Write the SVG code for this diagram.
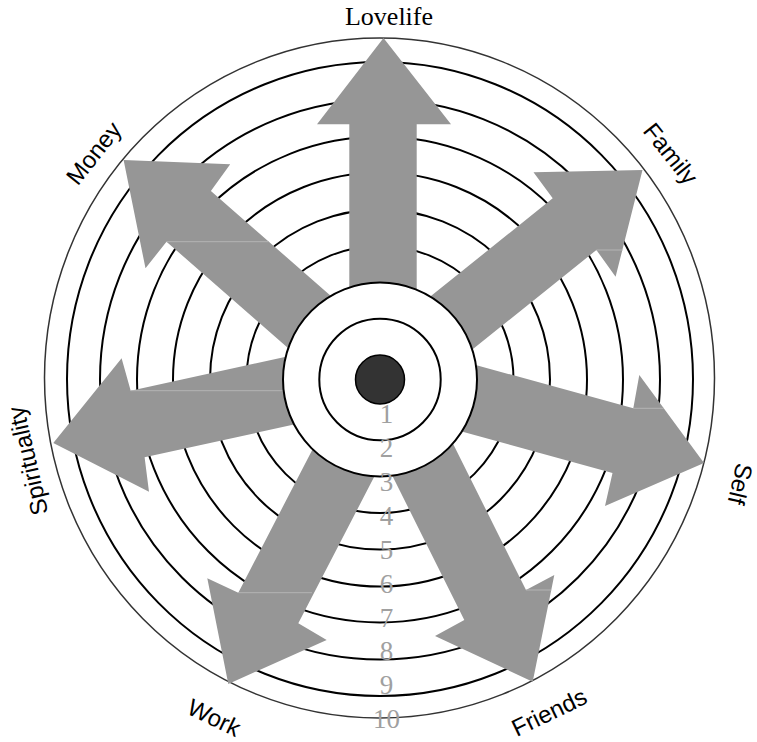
<svg xmlns="http://www.w3.org/2000/svg" width="757" height="742" viewBox="0 0 757 742">
<style>
.ring{fill:none;stroke:#000;stroke-width:2}
.outer{fill:none;stroke:#333;stroke-width:1.5}
.arrow{fill:#969696;stroke:none}
.seam{stroke:#b4b4b4;stroke-width:1;fill:none}
.num{font-family:"Liberation Serif","Times New Roman",serif;font-size:27px;fill:#a0a0a0;text-anchor:middle}
.lbl{font-family:"Liberation Sans",Arial,sans-serif;font-size:24px;fill:#000;text-anchor:middle}
.title{font-family:"Liberation Serif","Times New Roman",serif;font-size:26px;fill:#000;text-anchor:middle}
</style>
<rect width="757" height="742" fill="#fff"/>
<g id="rings">
<ellipse class="outer" cx="379.5" cy="378" rx="335" ry="340"/>
<ellipse class="ring" cx="380" cy="379" rx="313" ry="317"/>
<circle class="ring" cx="380" cy="379.5" r="280"/>
<circle class="ring" cx="380" cy="379.5" r="243"/>
<circle class="ring" cx="380" cy="379.5" r="207"/>
<circle class="ring" cx="380" cy="379.5" r="170"/>
<circle class="ring" cx="380" cy="379.5" r="133.5"/>
</g>
<g id="connectors">
<g id="arrow-lovelife"><polygon class="arrow" points="383.5,38 451,124.3 416.7,124.3 416.7,379 349.3,379 349.3,124.3 317,124.3"/></g>
<g id="arrow-family"><polygon class="arrow" points="642.5,170 615.6,276.7 596.4,250 401.4,406.5 357.7,354.8 552.7,198.3 533.5,172.3"/><line class="seam" x1="596.4" y1="250" x2="622.5" y2="250"/></g>
<g id="arrow-self"><polygon class="arrow" points="704,463 639.3,375 633.3,408.3 392.3,342 371.5,406.8 612.5,473 605,506"/><line class="seam" x1="633.3" y1="408.3" x2="663.8" y2="408.3"/></g>
<g id="arrow-friends"><polygon class="arrow" points="532.7,681.7 435,636 464.3,620 352.8,396.5 414.5,366.5 526,590 554.3,575"/><line class="seam" x1="526" y1="590" x2="551.3" y2="590"/></g>
<g id="arrow-work"><polygon class="arrow" points="228.3,684 207.3,578.3 238.3,592.7 353.3,370.7 413.3,401.3 298.3,623.3 326.7,640"/><line class="seam" x1="238.3" y1="592.7" x2="312" y2="592.7"/></g>
<g id="arrow-spirituality"><polygon class="arrow" points="53.3,443 121.6,358.3 130.7,390.7 375,337.2 388.9,403.8 144.6,457.3 149,491.7"/><line class="seam" x1="130.7" y1="390.7" x2="290" y2="390.7"/></g>
<g id="arrow-money"><polygon class="arrow" points="123.6,160 230.2,164.3 210.9,191 398.9,355.5 354.5,406.2 166.5,241.7 145.5,268.3"/><line class="seam" x1="166.5" y1="241.7" x2="268.8" y2="241.7"/></g>
</g>
<g id="hub">
<circle cx="380" cy="379.5" r="97" fill="#fff" stroke="#000" stroke-width="2"/>
<circle class="ring" cx="380" cy="379.5" r="60.7"/>
<circle cx="380" cy="379.5" r="24.5" fill="#333" stroke="#000" stroke-width="1.5"/>
</g>
<g id="scale">
<text class="num" x="386.5" y="422.7">1</text>
<text class="num" x="386.5" y="456.7">2</text>
<text class="num" x="386.5" y="490.6">3</text>
<text class="num" x="386.5" y="524.6">4</text>
<text class="num" x="386.5" y="558.5">5</text>
<text class="num" x="386.5" y="592.5">6</text>
<text class="num" x="386.5" y="626.5">7</text>
<text class="num" x="386.5" y="660.4">8</text>
<text class="num" x="386.5" y="694.4">9</text>
<text class="num" x="386.5" y="728.3">10</text>
</g>
<g id="label-lovelife"><text class="title" x="389" y="25">Lovelife</text></g>
<g id="label-family"><text class="lbl" transform="translate(668.8,155) rotate(51.4)" y="6">Family</text></g>
<g id="label-self"><text class="lbl" transform="translate(740.5,484) rotate(102.9)" y="8.6">Self</text></g>
<g id="label-friends"><text class="lbl" transform="translate(549,712) rotate(-25.7)" y="8.6">Friends</text></g>
<g id="label-work"><text class="lbl" transform="translate(214.2,717.3) rotate(25.7)" y="8.6">Work</text></g>
<g id="label-spirituality"><text class="lbl" transform="translate(30,460.3) rotate(-102.9)" y="6">Spirituality</text></g>
<g id="label-money"><text class="lbl" transform="translate(95.5,154.5) rotate(-51.4)" y="6">Money</text></g>
</svg>
